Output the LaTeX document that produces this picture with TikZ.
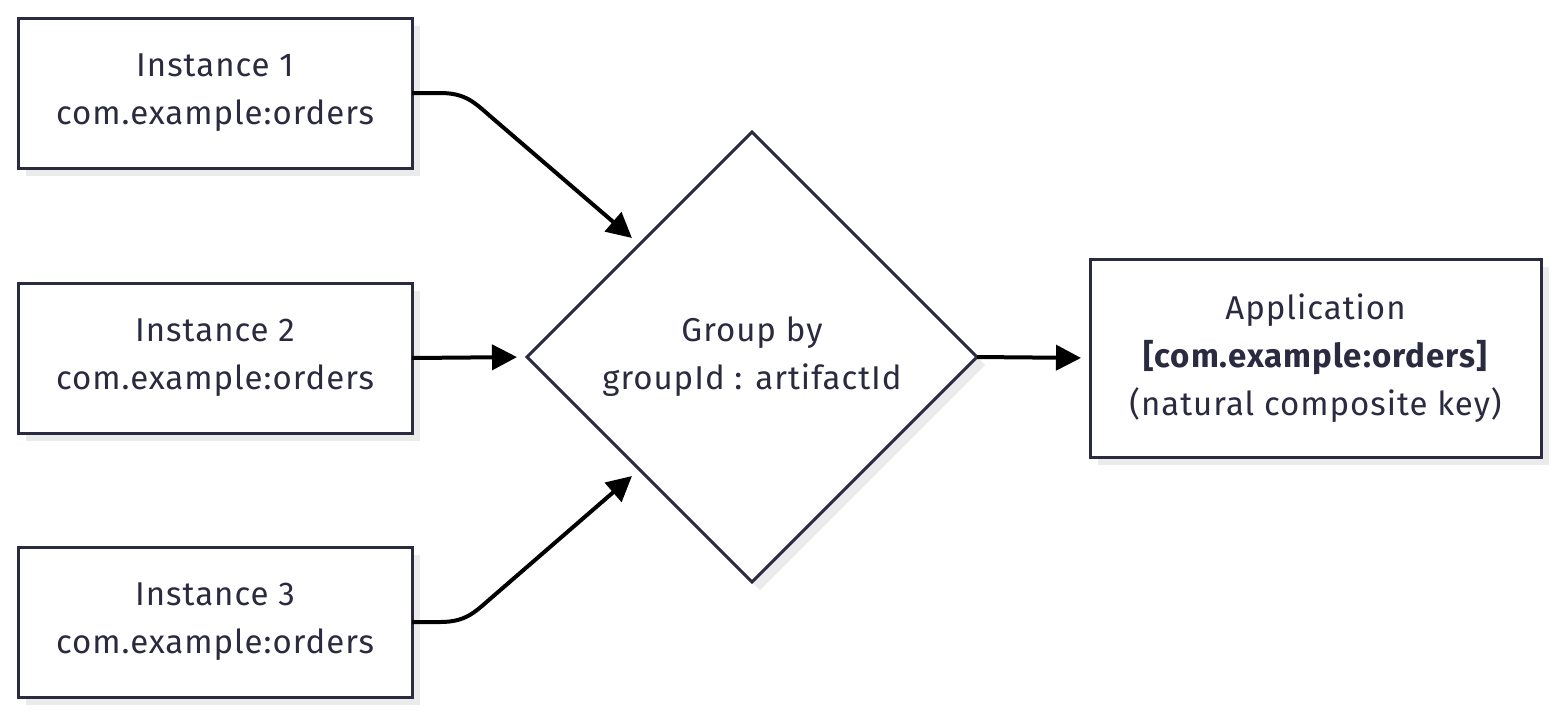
\documentclass[tikz,border=0pt]{standalone}
\usepackage{fontspec}
\setmainfont{Fira Sans}[LetterSpace=3]
\usetikzlibrary{arrows.meta,shapes.geometric,shadows,calc}
\definecolor{ink}{HTML}{2A2A40}
\definecolor{shade}{HTML}{EBEBEB}
\tikzset{
  base/.style={draw=ink, line width=3pt, fill=white, outer sep=0pt, inner sep=0pt,
    text=ink, align=center, font=\fontsize{33}{48}\selectfont,
    execute at begin node={\rule{0pt}{31pt}},
    general shadow={fill=shade, shadow xshift=8pt, shadow yshift=-8pt}},
  inst/.style={base, rectangle, minimum width=394pt, minimum height=150pt},
  appbox/.style={base, rectangle, minimum width=451pt, minimum height=198pt},
  decide/.style={base, diamond, minimum width=450pt, minimum height=450pt, aspect=1},
  arr/.style={draw=black, line width=4pt, -{Triangle[length=25pt,width=25pt]}},
}
\begin{document}
\begin{tikzpicture}[x=1pt,y=-1pt]
\useasboundingbox (0,0) rectangle (1560,716);
\node[inst] (b1) at (215,93) {Instance 1\\com.example:orders};
\node[inst] (b2) at (215,358) {Instance 2\\com.example:orders};
\node[inst] (b3) at (215,622) {Instance 3\\com.example:orders};
\node[decide] (g) at (752,357) {Group by\\groupId : artifactId};
\node[appbox] (app) at (1315.5,358) {Application\\\textbf{[com.example:orders]}\\(natural composite key)};
\draw[arr, shorten >=10pt] (b1.east) -- ++(28,0) .. controls +(25,0) and +(-16,-14) .. ++(50,23) -- (g.north west);
\draw[arr, shorten >=10pt] (b2.east) -- (g.west);
\draw[arr, shorten >=10pt] (b3.east) -- ++(28,0) .. controls +(25,0) and +(-16,14) .. ++(50,-23) -- (g.south west);
\draw[arr, shorten >=9pt] (g.east) -- (app.west);
\end{tikzpicture}
\end{document}
